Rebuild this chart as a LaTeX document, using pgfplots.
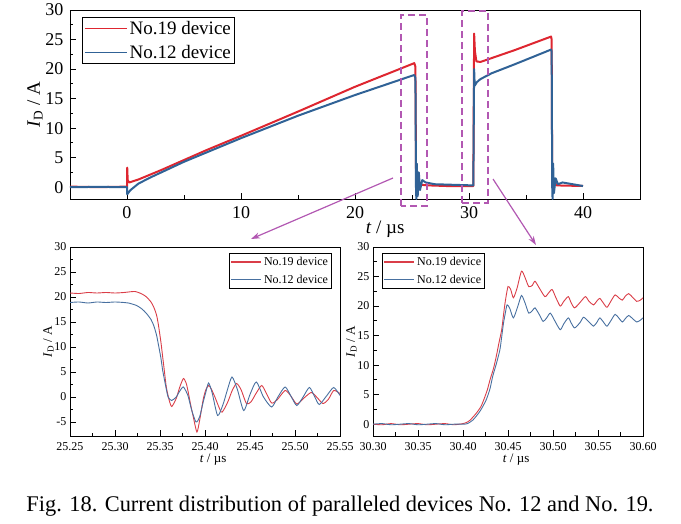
\documentclass[border=0pt]{standalone}
\usepackage{fontspec}
\setmainfont{Liberation Serif}
\usepackage{pgfplots}
\pgfplotsset{compat=1.18}
\usetikzlibrary{arrows.meta}

\definecolor{red19}{RGB}{222,38,48}
\definecolor{blue12}{RGB}{48,98,150}
\definecolor{redlt}{RGB}{218,62,72}
\definecolor{bluelt}{RGB}{72,112,160}
\definecolor{boxpurple}{RGB}{178,88,178}

% zoomed traces
\pgfplotstableread{
t I
25.250 20.8
25.260 20.7
25.270 20.9
25.280 20.8
25.290 20.9
25.300 20.8
25.310 20.9
25.322 21.1
25.330 20.6
25.335 20.0
25.340 19.0
25.343 18.0
25.346 16.5
25.348 14.7
25.351 11.0
25.353 8.0
25.355 5.0
25.357 2.0
25.360 -0.5
25.363 -1.9
25.368 -0.3
25.372 2.0
25.376 3.7
25.379 2.8
25.381 1.3
25.384 -1.5
25.387 -4.0
25.391 -7.0
25.394 -4.7
25.398 -0.5
25.401 1.5
25.404 2.3
25.407 1.6
25.411 0.0
25.418 -3.0
25.422 -2.2
25.426 -0.7
25.430 1.2
25.435 2.7
25.440 1.5
25.446 -1.3
25.451 -1.0
25.457 0.8
25.463 2.3
25.468 0.8
25.474 -1.2
25.480 -0.6
25.489 1.3
25.495 0.3
25.502 -1.4
25.510 -0.2
25.518 0.9
25.524 0.0
25.531 -1.3
25.537 -0.5
25.543 1.3
25.550 0.7
}\offred
\pgfplotstableread{
t I
25.250 18.9
25.260 19.0
25.270 18.8
25.280 19.0
25.290 18.9
25.300 19.0
25.310 18.9
25.315 18.8
25.324 18.3
25.330 17.6
25.335 16.7
25.340 15.5
25.343 14.3
25.346 12.5
25.348 10.7
25.351 7.8
25.353 5.3
25.356 2.5
25.359 0.0
25.363 -0.7
25.368 0.0
25.372 1.2
25.376 2.0
25.381 0.3
25.385 -2.5
25.390 -5.0
25.394 -4.0
25.398 -1.0
25.401 1.0
25.404 2.8
25.408 0.8
25.414 -3.7
25.420 -1.5
25.425 1.5
25.430 4.0
25.436 1.5
25.443 -2.7
25.450 0.5
25.457 3.0
25.465 0.0
25.474 -2.0
25.481 0.0
25.489 2.0
25.496 0.0
25.502 -1.7
25.509 0.0
25.516 1.9
25.522 0.0
25.527 -1.5
25.535 0.2
25.543 1.9
25.550 0.3
}\offblue
\pgfplotstableread{
t I
30.300 0.0
30.310 -0.1
30.320 0.1
30.330 -0.1
30.340 0.0
30.350 0.1
30.360 -0.1
30.370 0.0
30.380 0.1
30.390 -0.1
30.400 0.1
30.404 0.3
30.408 0.7
30.415 1.9
30.420 3.0
30.423 4.1
30.427 5.8
30.430 7.5
30.434 9.5
30.437 11.5
30.440 13.8
30.443 16.0
30.445 18.5
30.447 20.8
30.450 23.3
30.453 22.8
30.456 21.4
30.460 23.0
30.465 25.9
30.469 24.8
30.473 23.3
30.477 23.5
30.480 24.2
30.485 23.0
30.491 21.6
30.495 22.2
30.499 22.8
30.503 21.5
30.508 20.0
30.512 20.8
30.517 21.6
30.520 20.6
30.524 19.7
30.530 20.6
30.536 21.6
30.540 20.8
30.545 20.2
30.549 20.9
30.552 21.3
30.556 20.5
30.560 19.8
30.565 21.0
30.569 21.9
30.573 21.4
30.577 21.0
30.580 21.6
30.584 22.1
30.589 21.4
30.593 20.8
30.597 21.0
30.600 21.4
}\onred
\pgfplotstableread{
t I
30.300 0.0
30.310 0.1
30.320 -0.1
30.330 0.0
30.340 0.1
30.350 -0.1
30.360 0.0
30.370 0.1
30.380 -0.1
30.390 0.0
30.400 0.0
30.405 0.1
30.411 0.7
30.418 2.0
30.422 3.0
30.426 4.2
30.430 6.0
30.433 8.1
30.437 10.2
30.441 12.6
30.443 14.8
30.445 17.1
30.447 18.8
30.449 20.2
30.452 19.6
30.456 18.0
30.461 20.0
30.465 21.8
30.469 20.5
30.473 18.8
30.477 19.2
30.480 19.7
30.485 18.5
30.489 17.4
30.493 18.0
30.497 18.8
30.502 17.5
30.508 16.0
30.512 17.0
30.517 18.0
30.520 17.2
30.524 16.3
30.530 17.2
30.534 18.1
30.540 17.3
30.545 16.6
30.549 17.3
30.552 18.0
30.556 17.3
30.560 16.6
30.565 17.7
30.569 18.6
30.573 18.0
30.577 17.3
30.580 17.8
30.584 18.4
30.589 17.8
30.593 17.3
30.597 17.6
30.600 18.0
}\onblue

\pgfplotsset{
  origin/.style={
    scale only axis,
    axis line style={line width=0.9pt},
    tick align=inside,
    xtick pos=bottom, ytick pos=left,
    tick style={line width=0.8pt, black},
    major tick length=6pt, minor tick length=3.5pt,
    /pgf/number format/assume math mode=true,
    legend cell align=left,
  },
  zoomaxis/.style={origin,
    width=270pt, height=189pt,
    minor x tick num=1, minor y tick num=1,
    x tick label style={/pgf/number format/fixed, /pgf/number format/fixed zerofill,
      /pgf/number format/precision=2, yshift=-3pt},
    ticklabel style={font=\fontsize{12}{14}\selectfont},
    xlabel={\textit{t} / µs}, ylabel={\textit{I}\textsubscript{D} / A},
    label style={font=\fontsize{13}{15}\selectfont},
    xlabel style={at={(axis description cs:0.53,-0.127)}, anchor=center},
    ylabel style={yshift=-6pt},
    legend style={line width=0.8pt,
      font=\fontsize{12}{14}\selectfont, inner sep=1.5pt, row sep=4pt},
  },
}

\begin{document}
\begin{tikzpicture}
\path[use as bounding box] (0,0) rectangle (681pt,523pt);

% ---- full waveform ----
\begin{axis}[origin,
  at={(70pt,324pt)}, anchor=south west,
  width=570pt, height=189pt,
  xmin=-5, xmax=45, ymin=-2, ymax=30,
  xtick={0,10,20,30,40}, minor x tick num=1,
  ytick={0,5,...,30}, minor y tick num=1,
  ticklabel style={font=\fontsize{18}{20}\selectfont},
  x tick label style={yshift=-4pt}, y tick label style={xshift=-3pt},
  xlabel={\textit{t} / µs}, ylabel={\textit{I}\textsubscript{D} / A},
  label style={font=\fontsize{19}{21}\selectfont},
  xlabel style={at={(axis description cs:0.553,-0.159)}, anchor=center},
  ylabel style={yshift=-4pt},
  clip=false,
  legend style={at={(0.021,0.963)}, anchor=north west,
    line width=0.8pt, font=\fontsize{19}{22}\selectfont,
    inner sep=2pt, row sep=5pt},
  legend image code/.code={\draw[#1, draw=., line width=1.2pt] (0pt,0pt) -- (42pt,0pt);},
]
\addplot[red19, line width=2pt, line join=round] coordinates {
(-5,0.1) (-2.5,0.0) (0,0.1) (0.02,3.3) (0.06,1.2) (0.2,0.8) (1,1.3) (3,2.9)
(5,4.6) (7,6.3) (10,8.7) (15,12.8) (20,17.0) (25.2,21.0) (25.3,20.4)
(25.36,0.0) (25.45,-0.8) (25.6,0.8) (25.8,0.4) (26.5,0.3) (28,0.2) (30.38,0.2)
(30.45,26.0) (30.52,23.0) (30.65,21.3) (31,21.2) (34,23.2) (37.2,25.5)
(37.25,25.0) (37.3,0.0) (37.45,0.9) (37.7,0.3) (40,0.2)
};
\addlegendentry{No.19 device}
\addplot[blue12, line width=2pt, line join=round] coordinates {
(-5,0.0) (-2.5,0.05) (0,0.0) (0.02,-1.2) (0.3,-0.5) (1,0.6) (2,1.6) (3,2.5)
(5,4.3) (7,5.9) (10,8.3) (15,12.1) (20,15.6) (25.2,19.0) (25.3,18.5)
(25.35,0.0) (25.38,-2.0) (25.42,4.0) (25.5,-1.5) (25.6,2.5) (25.7,-0.5)
(25.9,1.2) (26.2,0.8) (27,0.5) (30.38,0.3) (30.45,20.0) (30.5,17.2)
(30.7,17.8) (31,18.3) (32,19.3) (34,20.8) (37.2,23.3) (37.25,23.0)
(37.3,0.0) (37.33,-2.0) (37.38,4.0) (37.45,-1.0) (37.6,1.5) (37.8,0.5)
(38.2,0.8) (40,0.2)
};
\addlegendentry{No.12 device}
\end{axis}

% ---- turn-off detail ----
\begin{axis}[zoomaxis,
  at={(70pt,87pt)}, anchor=south west,
  xmin=25.25, xmax=25.55, ymin=-7.8, ymax=30,
  xtick={25.25,25.30,25.35,25.40,25.45,25.50,25.55},
  ytick={-5,0,...,30},
  legend style={at={(0.97,0.968)}, anchor=north east},
  legend image code/.code={\draw[#1, draw=., line width=1.3pt] (0pt,0pt) -- (30pt,0pt);},
]
\addplot[redlt, line width=0.9pt, smooth, tension=0.4] table[x=t, y=I] {\offred};
\addlegendentry{No.19 device}
\addplot[bluelt, line width=0.9pt, smooth, tension=0.4] table[x=t, y=I] {\offblue};
\addlegendentry{No.12 device}
\end{axis}

% ---- turn-on detail ----
\begin{axis}[zoomaxis,
  at={(373pt,87pt)}, anchor=south west,
  xmin=30.30, xmax=30.60, ymin=-2, ymax=30,
  xtick={30.30,30.35,30.40,30.45,30.50,30.55,30.60},
  ytick={0,5,...,30},
  legend style={at={(0.033,0.968)}, anchor=north west},
  legend image code/.code={\draw[#1, draw=., line width=1.3pt] (0pt,0pt) -- (30pt,0pt);},
]
\addplot[redlt, line width=0.9pt, smooth, tension=0.4] table[x=t, y=I] {\onred};
\addlegendentry{No.19 device}
\addplot[bluelt, line width=0.9pt, smooth, tension=0.4] table[x=t, y=I] {\onblue};
\addlegendentry{No.12 device}
\end{axis}

% zoom boxes and arrows
\draw[boxpurple, line width=1.5pt, dash pattern=on 7pt off 4pt] (401pt,317pt) rectangle (427pt,508pt);
\draw[boxpurple, line width=1.5pt, dash pattern=on 7pt off 4pt] (462pt,320pt) rectangle (488pt,512pt);
\draw[boxpurple, line width=1.2pt, -{Stealth[length=9pt,width=6pt]}] (393pt,345pt) -- (251pt,284pt);
\draw[boxpurple, line width=1.2pt, -{Stealth[length=9pt,width=6pt]}] (493pt,344pt) -- (536pt,278pt);

\node[font=\fontsize{22.4}{26}\selectfont, anchor=base] at (340pt,12pt)
  {Fig. 18. Current distribution of paralleled devices No. 12 and No. 19.};
\end{tikzpicture}
\end{document}
